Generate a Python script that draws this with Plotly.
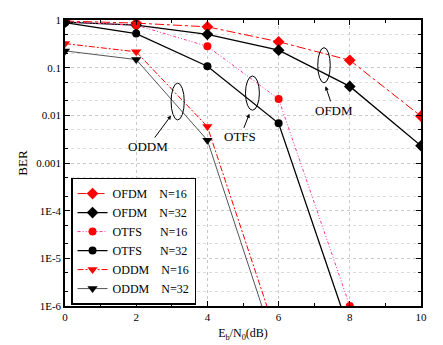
import plotly.graph_objects as go

snr = [0, 2, 4, 6, 8, 10]
ofdm16 = [0.95, 0.86, 0.72, 0.35, 0.143, 0.0096]
ofdm32 = [0.9, 0.78, 0.50, 0.233, 0.0405, 0.0023]
otfs16 = [0.92, 0.78, 0.28, 0.022, 1.0e-6]
otfs32 = [0.88, 0.52, 0.107, 0.0068, 2.8e-7]
oddm16 = [0.32, 0.215, 0.0058, 1.8e-7]
oddm32 = [0.225, 0.148, 0.003, 8.5e-8]

ytickvals = [1, 0.1, 0.01, 0.001, 1e-4, 1e-5, 1e-6]
yticktext = ["1", "0.1", "0.01", "0.001", "1E-4", "1E-5", "1E-6"]
xtickvals = [0, 2, 4, 6, 8, 10]

FONT = "Liberation Serif"
NB = "\u00a0"

series = [
    ("OFDM" + NB*4 + "N=16", ofdm16, "#ff0000", "dashdot", "diamond", "#ff0000", 9, 1),
    ("OFDM" + NB*4 + "N=32", ofdm32, "#000000", "solid", "diamond", "#000000", 9, 1.3),
    ("OTFS" + NB*6 + "N=16", otfs16, "#ff3399", "3px,2px,1px,2px,1px,2px", "circle", "#ff0000", 8, 1),
    ("OTFS" + NB*6 + "N=32", otfs32, "#000000", "solid", "circle", "#000000", 8, 1.3),
    ("ODDM" + NB*4 + "N=16", oddm16, "#ff0000", "6px,2px,2px,2px", "triangle-down", "#ff0000", 9, 1),
    ("ODDM" + NB*4 + "N=32", oddm32, "#555555", "solid", "triangle-down", "#000000", 9, 1),
]

fig = go.Figure()
for name, ys, lc, dash, sym, mc, ms, lw in series:
    fig.add_trace(go.Scatter(
        x=snr[:len(ys)], y=ys, name=name, mode="lines+markers",
        line=dict(color=lc, dash=dash, width=lw),
        marker=dict(symbol=sym, color=mc, size=ms),
    ))

# ellipses (data values on log axis)
ellipses = [(2.98, 3.35, 0.008, 0.0475), (5.07, 5.46, 0.0128, 0.0668), (7.10, 7.45, 0.048, 0.263)]
for x0, x1, y0, y1 in ellipses:
    fig.add_shape(type="circle", xref="x", yref="y", x0=x0, x1=x1, y0=y0, y1=y1,
                  line=dict(color="black", width=1))

# labels with arrows: arrow head (x, log10 y), label offset px
labels = [("ODDM", 2.98, -2.004, -23, 31), ("OTFS", 5.18, -1.968, -9, 23), ("OFDM", 7.32, -1.392, 8, 24)]
for t, x, ly, ax, ay in labels:
    fig.add_annotation(x=x, y=ly, xref="x", yref="y", text=t, showarrow=True,
                       ax=ax, ay=ay, arrowhead=2, arrowsize=0.8, arrowwidth=1, arrowcolor="black",
                       font=dict(family=FONT, size=13, color="black"))

axis_common = dict(showline=True, linecolor="black", linewidth=1.5, mirror="ticks",
                   ticks="inside", ticklen=5, tickcolor="black", zeroline=False, automargin=False,
                   tickfont=dict(family=FONT, size=11, color="black"))

fig.update_xaxes(range=[0, 10], tickvals=xtickvals, showgrid=True,
                 gridcolor="#c8c8c8", griddash="dot", gridwidth=1,
                 minor=dict(dtick=1, ticks="inside", ticklen=3, tickcolor="black", showgrid=False),
                 title=dict(text="E<sub>b</sub>/N<sub>0</sub>(dB)", font=dict(family=FONT, size=12, color="black"), standoff=7),
                 **axis_common)
fig.update_yaxes(type="log", range=[-6, 0], tickvals=ytickvals, ticktext=yticktext,
                 showgrid=True, gridcolor="#c8c8c8", griddash="dot", gridwidth=1,
                 minor=dict(ticks="inside", ticklen=3, tickcolor="black", showgrid=True,
                            gridcolor="#dcdcdc", griddash="dot", gridwidth=1),
                 title=dict(text="BER", font=dict(family=FONT, size=13, color="black"), standoff=6),
                 **axis_common)

fig.update_layout(
    width=435, height=337,
    margin=dict(l=57, r=22, t=12, b=39, autoexpand=False),
    paper_bgcolor="white", plot_bgcolor="white",
    font=dict(family=FONT, color="black"),
    legend=dict(x=0.017, y=0.005, xanchor="left", yanchor="bottom",
                bgcolor="white", bordercolor="black", borderwidth=1.5,
                font=dict(family=FONT, size=12, color="black"),
                tracegroupgap=0, itemwidth=30),
)

fig.write_html("out.html")
